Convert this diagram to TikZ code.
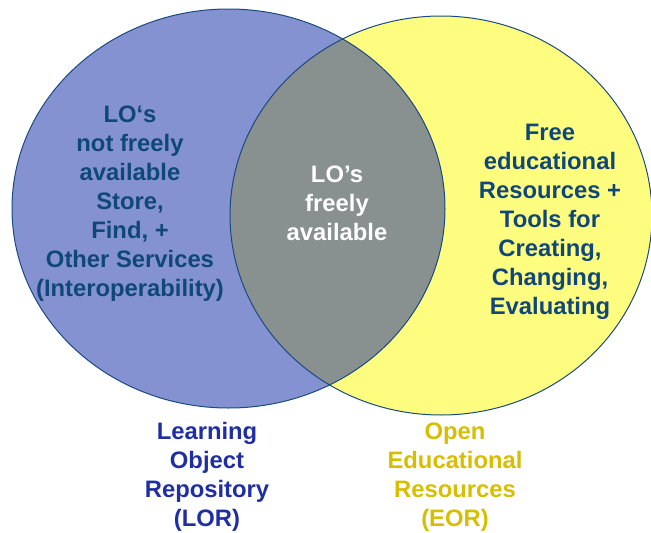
\documentclass[tikz,border=0pt]{standalone}
\usepackage{fontspec}
\setmainfont{Liberation Sans}
\definecolor{lorfill}{HTML}{8592D1}
\definecolor{eorfill}{HTML}{FFFD80}
\definecolor{bothfill}{HTML}{889090}
\definecolor{rim}{HTML}{1A4A80}
\definecolor{inktext}{HTML}{10477A}
\definecolor{lorlabel}{HTML}{1F2FA3}
\definecolor{eorlabel}{HTML}{D6BE00}

\begin{document}
\begin{tikzpicture}[x=1pt, y=-1pt,
    setlabel/.style = {align = center, font = \fontsize{23.8}{29}\selectfont\bfseries},
    setrim/.style = {rim, line width = 1pt}]
    \useasboundingbox (0,0) rectangle (651,533);
    % the two sets
    \fill[lorfill] (228.5,208.5) ellipse [x radius = 216.5, y radius = 199.5];
    \fill[eorfill] (441,215.5) ellipse [x radius = 211, y radius = 199.5];
    \begin{scope}
        \clip (228.5,208.5) ellipse [x radius = 216.5, y radius = 199.5];
        \fill[bothfill] (441,215.5) ellipse [x radius = 211, y radius = 199.5];
    \end{scope}
    \draw[setrim] (228.5,208.5) ellipse [x radius = 216.5, y radius = 199.5];
    \draw[setrim] (441,215.5) ellipse [x radius = 211, y radius = 199.5];
    % texts inside
    \node[setlabel, text = inktext] (lorOnly) at (130,203.5)
        {LO‘s\\not freely\\available\\Store,\\Find, +\\Other Services\\(Interoperability)};
    \node[setlabel, text = white] (both) at (337,203) {LO’s\\freely\\available};
    \node[setlabel, text = inktext] (eorOnly) at (550,222)
        {Free\\educational\\Resources +\\Tools for\\Creating,\\Changing,\\Evaluating};
    % names below
    \node[setlabel, text = lorlabel] (lorName) at (207,477)
        {Learning\\Object\\Repository\\(LOR)};
    \node[setlabel, text = eorlabel] (eorName) at (455,477)
        {Open\\Educational\\Resources\\(EOR)};
\end{tikzpicture}
\end{document}
